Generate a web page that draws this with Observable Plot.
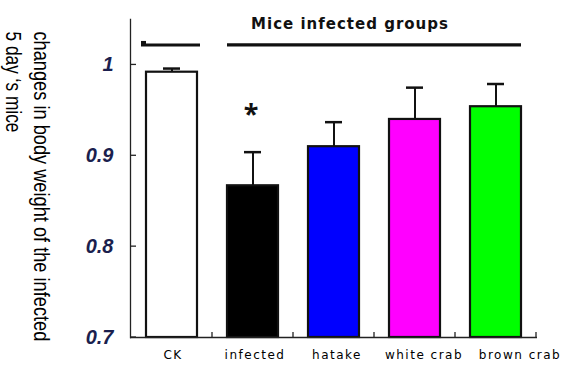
<!DOCTYPE html>
<html><head><meta charset="utf-8">
<script src="https://cdn.jsdelivr.net/npm/d3@7"></script>
<script src="https://cdn.jsdelivr.net/npm/@observablehq/plot@0.6"></script>
<style>
body{margin:0;background:#fff}
#chart{width:578px;height:373px;overflow:hidden}
</style>
</head><body><div id="chart"></div>
<script>
// ---- data ----
const groups = ["CK", "infected", "hatake", "white crab", "brown crab"];
const means = [0.992, 0.867, 0.910, 0.940, 0.954];
const upperErr = [0.004, 0.037, 0.027, 0.035, 0.025];
const fills = ["#ffffff", "#000000", "#0000ff", "#ff00ff", "#00ff00"];
const yTicks = [0.7, 0.8, 0.9, 1];
const yTickLabels = ["0.7", "0.8", "0.9", "1"];
const chartTitle = "Mice infected groups";
const yTitleLines = ["changes in body weight of the infected", "5 day \u2018s mice"];
const sigGroup = "infected";
const sigMark = "*";
const bracketLevel = 1.022;
const sigLevel = 0.945;

// ---- style (label nudges, title lengths) ----
const xLabelNudge = [1, 2, 3, 9, 24];
const yTitleLengths = [310, 101];

const data = groups.map((g, i) => ({g, m: means[i], hi: means[i] + upperErr[i], fill: fills[i]}));
const titleFont = "Liberation Sans, Arial, sans-serif";

const chart = Plot.plot({
  width: 578,
  height: 373,
  marginLeft: 130,
  marginRight: 41,
  marginTop: 19,
  marginBottom: 36,
  style: {background: "#fff", overflow: "visible"},
  x: {domain: groups, paddingInner: 0.37, paddingOuter: 0.185, label: null},
  y: {domain: [0.7, 1.05], label: null},
  color: {type: "identity"},
  marks: [
    Plot.axisY({ticks: yTicks, tickFormat: (d) => yTickLabels[yTicks.indexOf(d)], tickSize: 0, tickPadding: 17,
      fontSize: 20, fontWeight: "bold", fontStyle: "italic", fill: "#1b1f4e",
      fontFamily: "Liberation Sans, Arial, sans-serif", label: null}),
    Plot.axisX({tickSize: 0, tickPadding: 13, fontSize: 12, fill: "#000",
      fontFamily: "DejaVu Sans, Verdana, sans-serif", label: null}),
    // error bars (upper only)
    Plot.ruleX(data, {x: "g", y1: "m", y2: "hi", stroke: "#111", strokeWidth: 2}),
    Plot.tickY(data, {x: "g", y: "hi", stroke: "#111", strokeWidth: 2.5, insetLeft: 17, insetRight: 17}),
    // bars
    Plot.barY(data, {x: "g", y1: 0.7, y2: "m", fill: "fill", stroke: "#111", strokeWidth: 2.2}),
    // axes lines
    Plot.ruleY([0.7], {stroke: "#222", strokeWidth: 1.3}),
    Plot.frame({anchor: "left", stroke: "#222", strokeWidth: 1.3}),
    // significance
    Plot.text([sigGroup], {x: (d) => d, y: sigLevel, text: () => sigMark, fontSize: 27, fontWeight: "bold", fill: "#111", dx: -2}),
    // group brackets
    Plot.tickY([groups[0]], {x: (d) => d, y: bracketLevel, stroke: "#111", strokeWidth: 3, insetLeft: -5, insetRight: -3}),
    Plot.ruleY([{a: groups[1], b: groups[groups.length - 1]}], {x1: "a", x2: "b", y: bracketLevel, stroke: "#111", strokeWidth: 3.2}),
    // title
    Plot.text([chartTitle], {frameAnchor: "top", dx: 16, dy: 5, fontSize: 15, fontWeight: "bold",
      fontFamily: "DejaVu Sans, Verdana, sans-serif", fill: "#111", lineAnchor: "middle"}),
    // y title
    Plot.text([yTitleLines[0]], {frameAnchor: "top-left", dx: -81, dy: 12, rotate: 90, textAnchor: "start",
      fontSize: 22, fontFamily: titleFont, fill: "#000"}),
    Plot.text([yTitleLines[1]], {frameAnchor: "top-left", dx: -109, dy: 12, rotate: 90, textAnchor: "start",
      fontSize: 22, fontFamily: titleFont, fill: "#000"})
  ]
});

document.getElementById("chart").appendChild(chart);

// inward ticks from the library's scales
const svg = d3.select(chart);
const xs = chart.scale("x"), ys = chart.scale("y");
const gap = (xs.step - xs.bandwidth) / 2;
const yBase = ys.apply(0.7);
const xLeft = xs.apply(groups[0]) - gap;
const g = svg.append("g").attr("stroke", "#222").attr("stroke-width", 1.3);
groups.forEach((d) => {
  const x = xs.apply(d) + xs.bandwidth + gap;
  g.append("line").attr("x1", x).attr("x2", x).attr("y1", yBase).attr("y2", yBase - 5);
});
yTicks.forEach((t) => {
  const y = ys.apply(t);
  g.append("line").attr("x1", xLeft).attr("x2", xLeft + 5).attr("y1", y).attr("y2", y);
});
// bracket end marker
const ckStart = xs.apply(groups[0]) - 5;
svg.append("rect").attr("x", ckStart).attr("y", ys.apply(bracketLevel) - 3.5).attr("width", 5).attr("height", 5).attr("fill", "#111");
svg.selectAll('[aria-label="x-axis tick label"] text')
  .style("letter-spacing", "1.5px")
  .attr("dx", (d, i) => xLabelNudge[i]);
svg.selectAll("text").each(function () {
  const t = this.textContent;
  const k = yTitleLines.indexOf(t);
  if (k >= 0) {
    const natural = this.getComputedTextLength();
    const sx = yTitleLengths[k] / natural;
    const tr = this.getAttribute("transform") || "";
    this.setAttribute("transform", tr + ` scale(${sx},1)`);
  }
  if (t === chartTitle) d3.select(this).style("letter-spacing", "1px");
});
</script>
</body></html>
